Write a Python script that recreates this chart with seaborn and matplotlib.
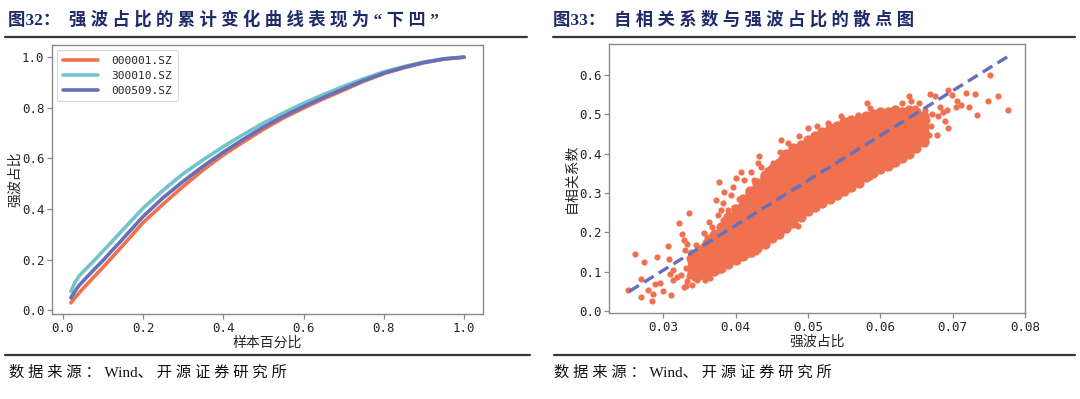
import numpy as np
import pandas as pd
import matplotlib
matplotlib.use("Agg")
import matplotlib.pyplot as plt
import seaborn as sns
from matplotlib.lines import Line2D

# ---------------- data: left panel (cumulative curves) ----------------
sample_pct = [0.02, 0.03, 0.04, 0.05, 0.06, 0.08, 0.10, 0.12, 0.14, 0.16, 0.18, 0.20,
              0.25, 0.30, 0.35, 0.40, 0.45, 0.50, 0.55, 0.60, 0.65, 0.70, 0.75, 0.80,
              0.85, 0.90, 0.95, 1.00]
s000001 = [0.030, 0.050, 0.068, 0.086, 0.103, 0.137, 0.170, 0.205, 0.240, 0.275, 0.311, 0.347,
           0.420, 0.490, 0.555, 0.614, 0.665, 0.715, 0.760, 0.799, 0.836, 0.870, 0.905, 0.935,
           0.958, 0.978, 0.992, 1.000]
s300010 = [0.075, 0.110, 0.135, 0.152, 0.168, 0.200, 0.234, 0.268, 0.302, 0.336, 0.370, 0.404,
           0.475, 0.540, 0.595, 0.647, 0.695, 0.740, 0.780, 0.818, 0.853, 0.885, 0.915, 0.942,
           0.963, 0.981, 0.994, 1.000]
s000509 = [0.050, 0.075, 0.098, 0.115, 0.132, 0.165, 0.197, 0.232, 0.266, 0.301, 0.336, 0.371,
           0.445, 0.510, 0.570, 0.625, 0.676, 0.724, 0.767, 0.805, 0.841, 0.875, 0.908, 0.937,
           0.960, 0.979, 0.993, 1.000]
series_names = ["000001.SZ", "300010.SZ", "000509.SZ"]

# ---------------- data: right panel (scatter) ----------------
core_x = [0.034, 0.035, 0.036, 0.037, 0.038, 0.039, 0.040, 0.041, 0.042, 0.043, 0.044,
          0.045, 0.046, 0.047, 0.048, 0.049, 0.050, 0.051, 0.052, 0.053, 0.054, 0.055,
          0.056, 0.057, 0.058, 0.059, 0.060, 0.061, 0.062, 0.063, 0.064, 0.065, 0.066]
core_y = [
    [0.098, 0.112, 0.126, 0.138],
    [0.092, 0.105, 0.118, 0.131, 0.144, 0.155],
    [0.097, 0.108, 0.121, 0.134, 0.147, 0.160, 0.172],
    [0.102, 0.115, 0.128, 0.141, 0.154, 0.167, 0.180, 0.194],
    [0.110, 0.123, 0.136, 0.149, 0.162, 0.175, 0.188, 0.201, 0.214],
    [0.120, 0.133, 0.146, 0.159, 0.172, 0.185, 0.198, 0.211, 0.224, 0.238],
    [0.130, 0.143, 0.156, 0.169, 0.182, 0.195, 0.208, 0.221, 0.234, 0.247, 0.260],
    [0.140, 0.153, 0.166, 0.179, 0.192, 0.205, 0.218, 0.231, 0.244, 0.257, 0.270, 0.284],
    [0.150, 0.163, 0.176, 0.189, 0.202, 0.215, 0.228, 0.241, 0.254, 0.267, 0.280, 0.293, 0.305],
    [0.160, 0.173, 0.186, 0.199, 0.212, 0.225, 0.238, 0.251, 0.264, 0.277, 0.290, 0.303, 0.316, 0.325],
    [0.170, 0.183, 0.196, 0.209, 0.222, 0.235, 0.248, 0.261, 0.274, 0.287, 0.300, 0.313, 0.326, 0.339, 0.345],
    [0.185, 0.198, 0.211, 0.224, 0.237, 0.250, 0.263, 0.276, 0.289, 0.302, 0.315, 0.328, 0.341, 0.354, 0.360],
    [0.195, 0.208, 0.221, 0.234, 0.247, 0.260, 0.273, 0.286, 0.299, 0.312, 0.325, 0.338, 0.351, 0.364, 0.377],
    [0.210, 0.223, 0.236, 0.249, 0.262, 0.275, 0.288, 0.301, 0.314, 0.327, 0.340, 0.353, 0.366, 0.379, 0.392, 0.400],
    [0.225, 0.238, 0.251, 0.264, 0.277, 0.290, 0.303, 0.316, 0.329, 0.342, 0.355, 0.368, 0.381, 0.394, 0.407, 0.415],
    [0.240, 0.253, 0.266, 0.279, 0.292, 0.305, 0.318, 0.331, 0.344, 0.357, 0.370, 0.383, 0.396, 0.409, 0.422],
    [0.255, 0.268, 0.281, 0.294, 0.307, 0.320, 0.333, 0.346, 0.359, 0.372, 0.385, 0.398, 0.411, 0.424, 0.435],
    [0.265, 0.278, 0.291, 0.304, 0.317, 0.330, 0.343, 0.356, 0.369, 0.382, 0.395, 0.408, 0.421, 0.434, 0.445],
    [0.275, 0.288, 0.301, 0.314, 0.327, 0.340, 0.353, 0.366, 0.379, 0.392, 0.405, 0.418, 0.431, 0.444, 0.455],
    [0.285, 0.298, 0.311, 0.324, 0.337, 0.350, 0.363, 0.376, 0.389, 0.402, 0.415, 0.428, 0.441, 0.454, 0.465],
    [0.295, 0.308, 0.321, 0.334, 0.347, 0.360, 0.373, 0.386, 0.399, 0.412, 0.425, 0.438, 0.451, 0.464, 0.470],
    [0.305, 0.318, 0.331, 0.344, 0.357, 0.370, 0.383, 0.396, 0.409, 0.422, 0.435, 0.448, 0.461, 0.474, 0.480],
    [0.315, 0.328, 0.341, 0.354, 0.367, 0.380, 0.393, 0.406, 0.419, 0.432, 0.445, 0.458, 0.471, 0.485],
    [0.325, 0.338, 0.351, 0.364, 0.377, 0.390, 0.403, 0.416, 0.429, 0.442, 0.455, 0.468, 0.481, 0.490],
    [0.340, 0.353, 0.366, 0.379, 0.392, 0.405, 0.418, 0.431, 0.444, 0.457, 0.470, 0.483, 0.495],
    [0.350, 0.363, 0.376, 0.389, 0.402, 0.415, 0.428, 0.441, 0.454, 0.467, 0.480, 0.493, 0.500],
    [0.360, 0.373, 0.386, 0.399, 0.412, 0.425, 0.438, 0.451, 0.464, 0.477, 0.490, 0.505],
    [0.370, 0.383, 0.396, 0.409, 0.422, 0.435, 0.448, 0.461, 0.474, 0.487, 0.500, 0.505],
    [0.380, 0.393, 0.406, 0.419, 0.432, 0.445, 0.458, 0.471, 0.484, 0.497, 0.510],
    [0.390, 0.403, 0.416, 0.429, 0.442, 0.455, 0.468, 0.481, 0.494, 0.507],
    [0.400, 0.413, 0.426, 0.439, 0.452, 0.465, 0.478, 0.491, 0.504, 0.510],
    [0.415, 0.428, 0.441, 0.454, 0.467, 0.480, 0.493, 0.505],
    [0.430, 0.443, 0.456, 0.469, 0.482, 0.495],
]
edge_x = [0.0251, 0.0261, 0.0269, 0.0269, 0.0274, 0.0279, 0.0284, 0.0286, 0.0291, 0.0289,
          0.0295, 0.0299, 0.0306, 0.0308, 0.0311, 0.0310, 0.0313, 0.0314, 0.0319, 0.0322,
          0.0326, 0.0329, 0.0330, 0.0328, 0.0332, 0.0335, 0.0333, 0.0338, 0.0343, 0.0345,
          0.0352, 0.0354, 0.0357, 0.0361, 0.0363, 0.0368, 0.0370, 0.0373, 0.0377, 0.0375,
          0.0380, 0.0383, 0.0384, 0.0387, 0.0389, 0.0394, 0.0396, 0.0400, 0.0407, 0.0412,
          0.0421, 0.0426, 0.0433, 0.0431, 0.0435, 0.0422, 0.0428, 0.0456, 0.0461, 0.0463,
          0.0472, 0.0477, 0.0486, 0.0481, 0.0488, 0.0500, 0.0512, 0.0505, 0.0519, 0.0528,
          0.0535, 0.0546, 0.0560, 0.0569, 0.0581, 0.0586, 0.0597, 0.0611, 0.0630, 0.0639,
          0.0643, 0.0653, 0.0662, 0.0669, 0.0676, 0.0683, 0.0692, 0.0694, 0.0699, 0.0706,
          0.0704, 0.0711, 0.0719, 0.0722, 0.0731, 0.0734, 0.0752, 0.0749, 0.0762, 0.0776,
          0.0690, 0.0694, 0.0678, 0.0667, 0.0657, 0.0648, 0.0625, 0.0613, 0.0593, 0.0586,
          0.0569, 0.0549, 0.0532, 0.0523, 0.0509, 0.0495, 0.0491, 0.0475, 0.0468, 0.0458,
          0.0449, 0.0442, 0.0426, 0.0417, 0.0405, 0.0394, 0.0380, 0.0375, 0.0361, 0.0347,
          0.0340, 0.0333, 0.0324, 0.0648, 0.0634, 0.0620, 0.0606, 0.0588, 0.0574, 0.0558,
          0.0537, 0.0521, 0.0509, 0.0498, 0.0486, 0.0475, 0.0463, 0.0451, 0.0444, 0.0438,
          0.0431, 0.0417, 0.0405, 0.0398, 0.0391, 0.0382, 0.0370, 0.0361, 0.0350, 0.0340,
          0.0672, 0.0680, 0.0686, 0.0670, 0.0665,
          0.0335, 0.0338, 0.0342, 0.0346, 0.0336, 0.0349, 0.0355, 0.0358, 0.0365, 0.0331,
          0.0339, 0.0344]
edge_y = [0.054, 0.144, 0.081, 0.036, 0.125, 0.054, 0.025, 0.044, 0.138, 0.070,
          0.071, 0.051, 0.165, 0.133, 0.040, 0.095, 0.104, 0.078, 0.087, 0.224,
          0.197, 0.180, 0.155, 0.061, 0.063, 0.250, 0.170, 0.104, 0.129, 0.167,
          0.112, 0.095, 0.199, 0.189, 0.227, 0.214, 0.102, 0.282, 0.329, 0.244,
          0.257, 0.274, 0.303, 0.240, 0.257, 0.295, 0.316, 0.337, 0.354, 0.333,
          0.354, 0.333, 0.393, 0.376, 0.367, 0.146, 0.150, 0.371, 0.405, 0.435,
          0.427, 0.401, 0.216, 0.248, 0.444, 0.465, 0.471, 0.435, 0.454, 0.478,
          0.456, 0.495, 0.482, 0.499, 0.529, 0.516, 0.499, 0.503, 0.530, 0.546,
          0.533, 0.529, 0.512, 0.552, 0.546, 0.520, 0.512, 0.563, 0.550, 0.533,
          0.520, 0.524, 0.554, 0.520, 0.552, 0.499, 0.599, 0.535, 0.548, 0.510,
          0.482, 0.465, 0.448, 0.448, 0.435, 0.435, 0.401, 0.382, 0.352, 0.342,
          0.333, 0.316, 0.303, 0.284, 0.269, 0.261, 0.248, 0.235, 0.223, 0.201,
          0.189, 0.172, 0.155, 0.146, 0.138, 0.127, 0.104, 0.105, 0.095, 0.078,
          0.065, 0.076, 0.091, 0.516, 0.503, 0.512, 0.486, 0.478, 0.490, 0.471,
          0.461, 0.444, 0.427, 0.414, 0.410, 0.397, 0.388, 0.376, 0.359, 0.342,
          0.316, 0.299, 0.286, 0.265, 0.248, 0.231, 0.201, 0.172, 0.155, 0.138,
          0.500, 0.495, 0.505, 0.470, 0.485,
          0.090, 0.120, 0.085, 0.100, 0.135, 0.145, 0.165, 0.080, 0.085, 0.110,
          0.150, 0.115]
fit_x = [0.0253, 0.0777]
fit_y = [0.050, 0.648]

left_xticks = [0.0, 0.2, 0.4, 0.6, 0.8, 1.0]
left_yticks = [0.0, 0.2, 0.4, 0.6, 0.8, 1.0]
right_xticks = [0.03, 0.04, 0.05, 0.06, 0.07, 0.08]
right_yticks = [0.0, 0.1, 0.2, 0.3, 0.4, 0.5, 0.6]

title_left_num = "图32："
title_left = "强波占比的累计变化曲线表现为“下凹”"
title_right_num = "图33："
title_right = "自相关系数与强波占比的散点图"
source_head = "数据来源："
source_org = "Wind"
source_tail = "、开源证券研究所"

# ---------------- style ----------------
sns.set_theme(style="white")
plt.rcParams["font.family"] = ["Noto Sans CJK SC", "DejaVu Sans"]
plt.rcParams["axes.unicode_minus"] = False

ORANGE = "#F0714F"
TEAL = "#72C4CA"
PURPLE = "#6670B9"
SPINE = "#8a8a8a"
TXT = "#262626"
NAVY = "#1E2B6B"
MONO = ["DejaVu Sans Mono"]
SERIF_CJK = ["Liberation Serif", "Noto Sans CJK SC"]

W, H = 1080, 399
fig = plt.figure(figsize=(W / 100, H / 100), dpi=100)
fig.patch.set_facecolor("white")


def ax_rect(l, r, t, b):
    return [l / W, (H - b) / H, (r - l) / W, (b - t) / H]


def style_axes(ax):
    for s in ax.spines.values():
        s.set_color(SPINE)
        s.set_linewidth(1.0)
    ax.tick_params(axis="both", which="both", direction="out", length=3.5, width=0.9,
                   color=SPINE, labelsize=9, labelcolor=TXT, pad=2,
                   bottom=True, left=True)
    for lab in ax.get_xticklabels() + ax.get_yticklabels():
        lab.set_family(MONO)


# ---------------- left panel ----------------
ax1 = fig.add_axes(ax_rect(52, 483, 45, 314))
n = len(sample_pct)
df = pd.DataFrame({
    "x": sample_pct * 3,
    "y": s000001 + s300010 + s000509,
    "code": [series_names[0]] * n + [series_names[1]] * n + [series_names[2]] * n,
})
sns.lineplot(data=df, x="x", y="y", hue="code", hue_order=series_names,
             palette=[ORANGE, TEAL, PURPLE], linewidth=2.6, ax=ax1, legend=False,
             estimator=None, sort=True)
ax1.set_xlim(-0.027, 1.047)
ax1.set_ylim(-0.014, 1.048)
ax1.set_xticks(left_xticks)
ax1.set_yticks(left_yticks)
ax1.set_xticklabels([f"{v:.1f}" for v in left_xticks])
ax1.set_yticklabels([f"{v:.1f}" for v in left_yticks])
ax1.set_xlabel("样本百分比", fontsize=10, color=TXT, labelpad=1)
ax1.set_ylabel("强波占比", fontsize=10, color=TXT, labelpad=0)
style_axes(ax1)
handles = [Line2D([0], [0], color=c, lw=2.6, linestyle="-") for c in [ORANGE, TEAL, PURPLE]]
leg = ax1.legend(handles, series_names, loc="upper left", frameon=True,
                 prop={"family": MONO, "size": 8}, handlelength=3.2, handletextpad=1.2,
                 borderpad=0.5, labelspacing=0.45, borderaxespad=0.45, fancybox=True)
leg.get_frame().set_edgecolor("#cccccc")
leg.get_frame().set_linewidth(0.8)
for t in leg.get_texts():
    t.set_color(TXT)

# ---------------- right panel ----------------
ax2 = fig.add_axes(ax_rect(609, 1025, 44, 313))
cx = [x for x, ys in zip(core_x, core_y) for _ in ys]
cy = [y for ys in core_y for y in ys]
sns.scatterplot(x=cx, y=cy, color=ORANGE, s=55, linewidth=0, ax=ax2, zorder=2)
sns.scatterplot(x=edge_x, y=edge_y, color=ORANGE, s=20, linewidth=0, ax=ax2, zorder=2)
sns.lineplot(x=fit_x, y=fit_y, color=PURPLE, linewidth=2.4, ax=ax2, zorder=3)
ax2.lines[-1].set_dashes((3.4, 1.8))
ax2.set_xlim(0.0225, 0.080)
ax2.set_ylim(-0.005, 0.679)
ax2.set_xticks(right_xticks)
ax2.set_yticks(right_yticks)
ax2.set_xticklabels([f"{v:.2f}" for v in right_xticks])
ax2.set_yticklabels([f"{v:.1f}" for v in right_yticks])
ax2.set_xlabel("强波占比", fontsize=10, color=TXT, labelpad=1)
ax2.set_ylabel("自相关系数", fontsize=10, color=TXT, labelpad=0)
style_axes(ax2)

# ---------------- titles, rules, source ----------------
def spaced(s):
    return " ".join(list(s))


fig.text(8 / W, 1 - 20 / H, title_left_num + "  " + spaced(title_left), fontsize=12.5,
         fontweight="bold", color=NAVY, ha="left", va="center", family=SERIF_CJK)
fig.text(553 / W, 1 - 20 / H, title_right_num + "  " + spaced(title_right), fontsize=12.5,
         fontweight="bold", color=NAVY, ha="left", va="center", family=SERIF_CJK)
for (x0, x1, y) in [(5, 527, 37), (553, 1075, 37), (5, 530, 355), (554, 1075, 355)]:
    fig.add_artist(Line2D([x0 / W, x1 / W], [1 - y / H, 1 - y / H], color="#3a3a3a",
                          lw=1.6, transform=fig.transFigure))
src = spaced(source_head) + " " + source_org + spaced(source_tail)
fig.text(9 / W, 1 - 373 / H, src, fontsize=11, color="#111111",
         ha="left", va="center", family=SERIF_CJK)
fig.text(554 / W, 1 - 373 / H, src, fontsize=11, color="#111111",
         ha="left", va="center", family=SERIF_CJK)

fig.savefig("out.png", dpi=100, facecolor="white")
